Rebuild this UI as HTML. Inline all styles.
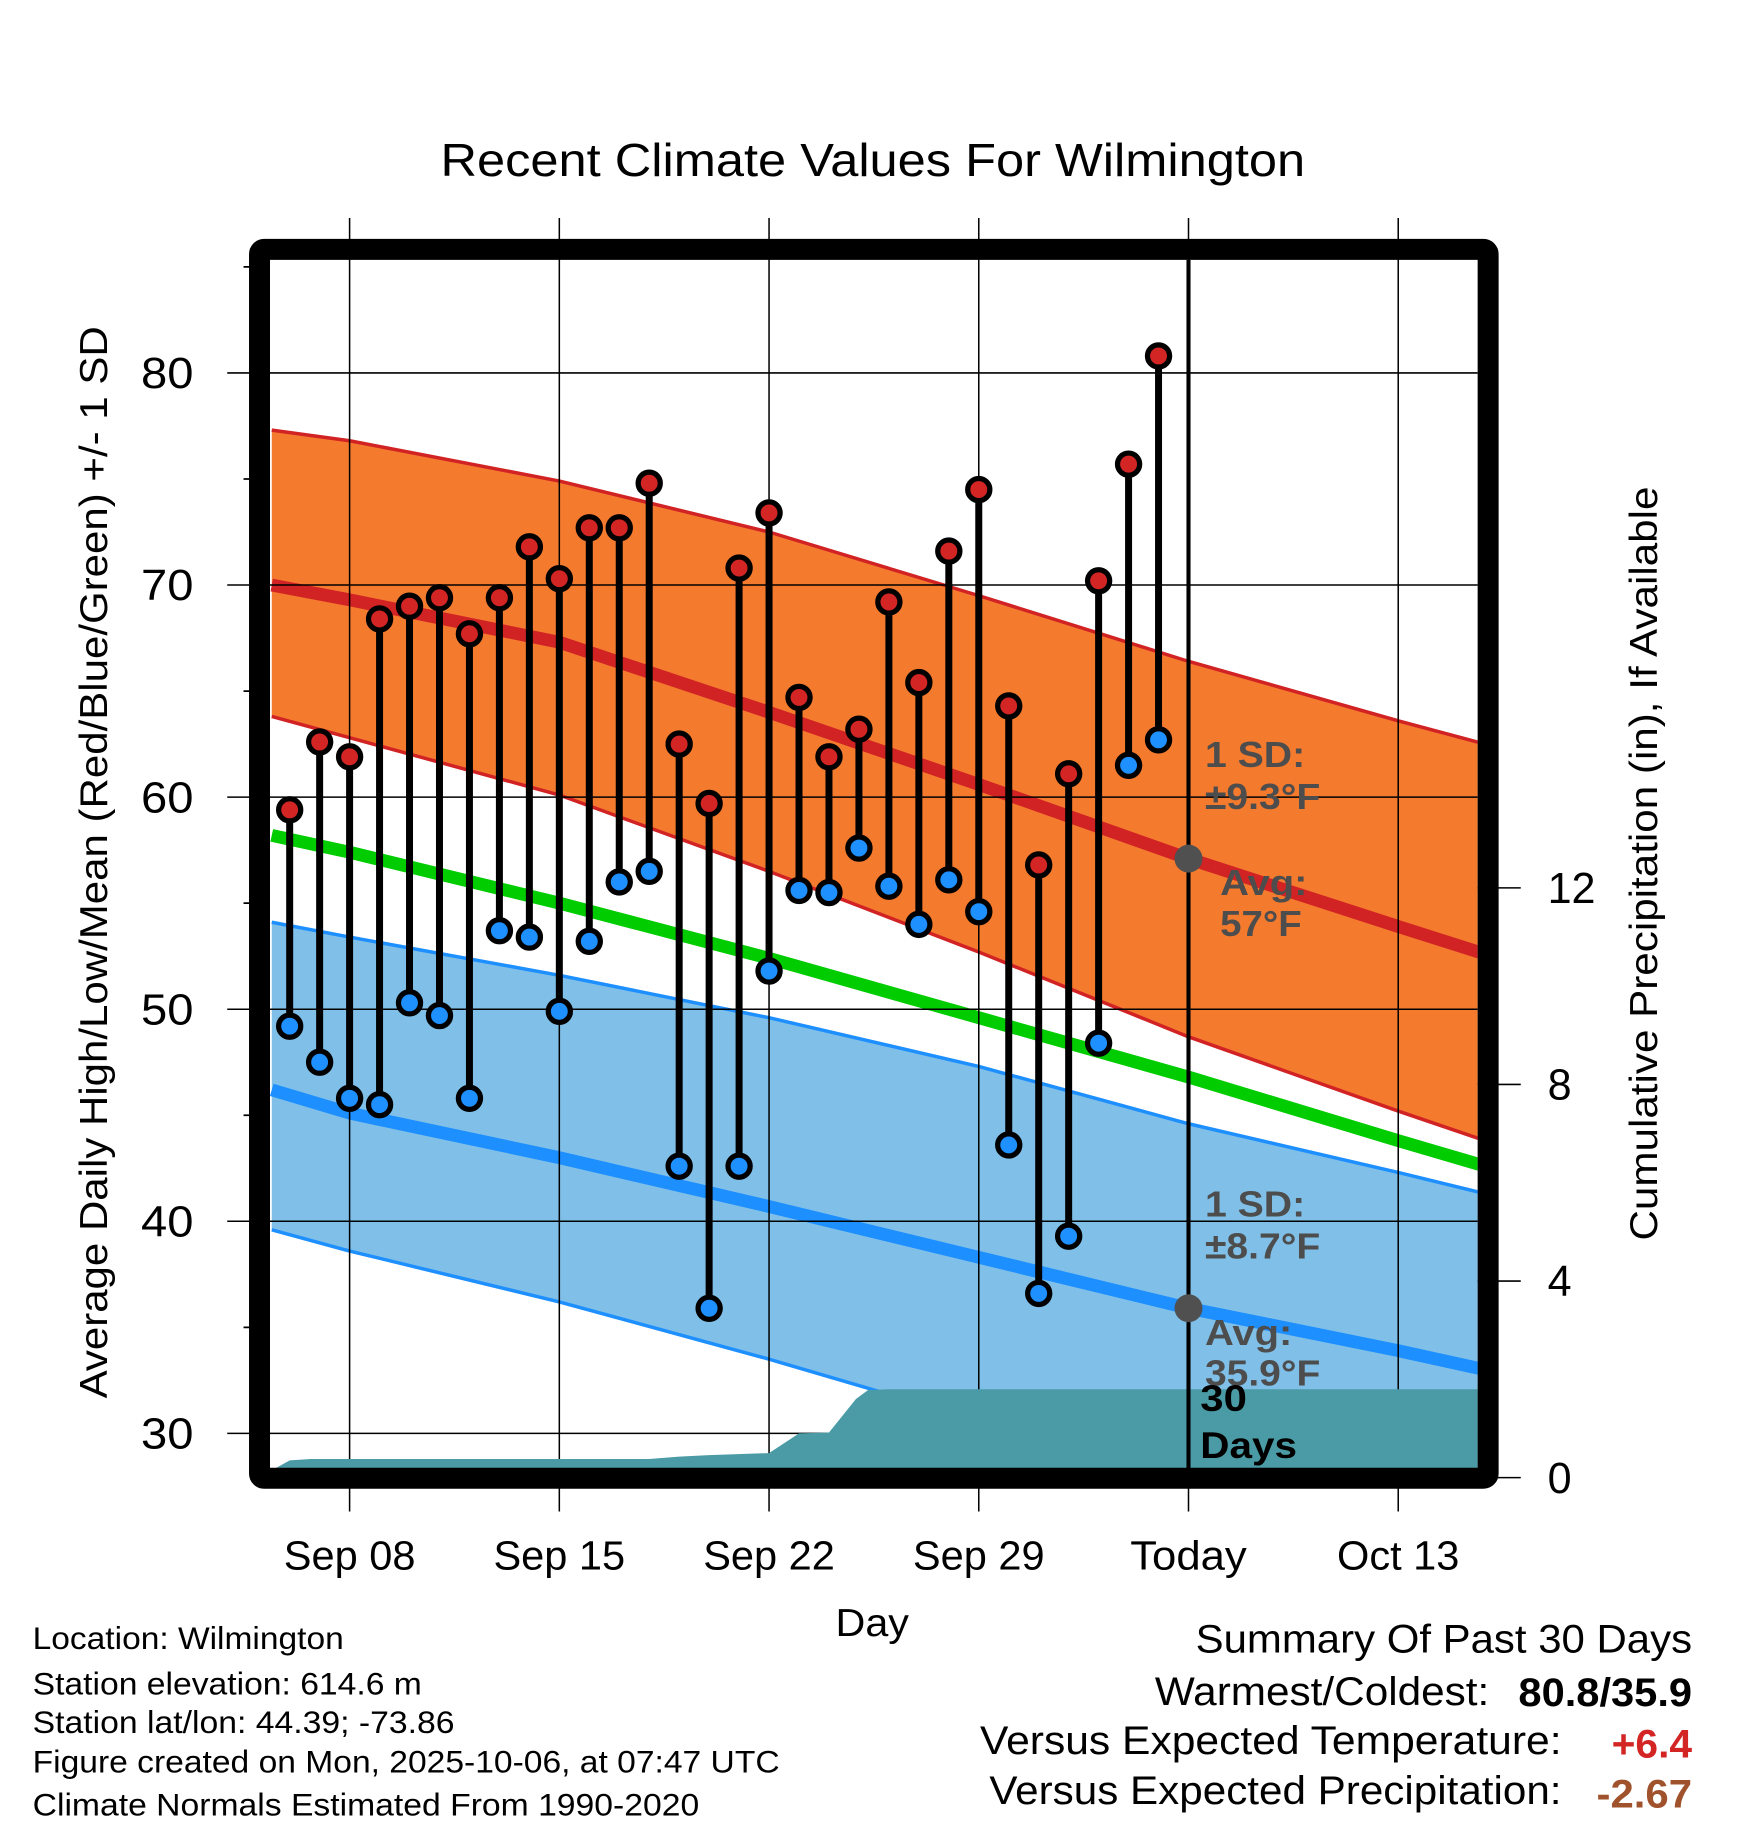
<!DOCTYPE html>
<html><head><meta charset="utf-8"><style>
html,body{margin:0;padding:0;background:#fff}
svg{display:block;font-family:"Liberation Sans",sans-serif}
</style></head><body>
<svg id="chart" width="1748" height="1828" viewBox="0 0 1500 1568.6" xmlns="http://www.w3.org/2000/svg">
<g id="bands"></g>
<g id="grid"></g>
<g id="precip"></g>
<g id="marks"></g>
<g id="annot"></g>
<g id="axes"></g>
<text x="378" y="151" font-size="40" textLength="742" lengthAdjust="spacingAndGlyphs">Recent Climate Values For Wilmington</text>
<text transform="translate(92,740) rotate(-90)" font-size="33" text-anchor="middle" textLength="920" lengthAdjust="spacingAndGlyphs">Average Daily High/Low/Mean (Red/Blue/Green) +/- 1 SD</text>
<text transform="translate(1422,741) rotate(-90)" font-size="33" text-anchor="middle" textLength="647" lengthAdjust="spacingAndGlyphs">Cumulative Precipitation (in), If Available</text>
<text x="717" y="1404" font-size="33" textLength="63" lengthAdjust="spacingAndGlyphs">Day</text>
<g font-size="27">
<text x="28" y="1415" textLength="267" lengthAdjust="spacingAndGlyphs">Location: Wilmington</text>
<text x="28" y="1454" textLength="334" lengthAdjust="spacingAndGlyphs">Station elevation: 614.6 m</text>
<text x="28" y="1487" textLength="362" lengthAdjust="spacingAndGlyphs">Station lat/lon: 44.39; -73.86</text>
<text x="28" y="1521" textLength="641" lengthAdjust="spacingAndGlyphs">Figure created on Mon, 2025-10-06, at 07:47 UTC</text>
<text x="28" y="1558" textLength="572" lengthAdjust="spacingAndGlyphs">Climate Normals Estimated From 1990-2020</text>
</g>
<g font-size="34">
<text x="1026" y="1418" textLength="426" lengthAdjust="spacingAndGlyphs">Summary Of Past 30 Days</text>
<text x="991" y="1463" textLength="287" lengthAdjust="spacingAndGlyphs">Warmest/Coldest:</text>
<text x="1303" y="1464" font-weight="bold" textLength="149" lengthAdjust="spacingAndGlyphs">80.8/35.9</text>
<text x="841" y="1505" textLength="499" lengthAdjust="spacingAndGlyphs">Versus Expected Temperature:</text>
<text x="1383" y="1508" font-weight="bold" fill="#d42525" textLength="69" lengthAdjust="spacingAndGlyphs">+6.4</text>
<text x="849" y="1548" textLength="491" lengthAdjust="spacingAndGlyphs">Versus Expected Precipitation:</text>
<text x="1370" y="1551" font-weight="bold" fill="#a0522d" textLength="82" lengthAdjust="spacingAndGlyphs">-2.67</text>
</g>
</svg>
<script>
const days = ["Sep 06","Sep 07","Sep 08","Sep 09","Sep 10","Sep 11","Sep 12","Sep 13","Sep 14","Sep 15","Sep 16","Sep 17","Sep 18","Sep 19","Sep 20","Sep 21","Sep 22","Sep 23","Sep 24","Sep 25","Sep 26","Sep 27","Sep 28","Sep 29","Sep 30","Oct 01","Oct 02","Oct 03","Oct 04","Oct 05"];
const highs = [59.4,62.6,61.9,68.4,69.0,69.4,67.7,69.4,71.8,70.3,72.7,72.7,74.8,62.5,59.7,70.8,73.4,64.7,61.9,63.2,69.2,65.4,71.6,74.5,64.3,56.8,61.1,70.2,75.7,80.8];
const lows = [49.2,47.5,45.8,45.5,50.3,49.7,45.8,53.7,53.4,49.9,53.2,56.0,56.5,42.6,35.9,42.6,51.8,55.6,55.5,57.6,55.8,54.0,56.1,54.6,43.6,36.6,39.3,48.4,61.5,62.7];
const normDays = [-2.6,0,7,14,21,28,35,37.9];
const hiMean = [70.0,69.3,67.3,64.0,60.6,57.1,53.9,52.6];
const hiUpper = [77.3,76.8,74.9,72.5,69.5,66.4,63.6,62.5];
const hiLower = [63.8,62.8,60.1,56.5,52.7,48.7,45.2,43.8];
const meanMean = [58.2,57.4,55.0,52.4,49.6,46.8,43.8,42.6];
const loMean = [46.2,45.1,43.0,40.7,38.3,35.9,33.9,33.0];
const loUpper = [54.1,53.4,51.6,49.6,47.3,44.6,42.3,41.3];
const loLower = [39.6,38.6,36.2,33.5,30.6,27.2,25.0,24.3];
const precipDays = [-2.6,-2,-1.3,0,10,11,12,14,15,16,16.9,17.3,18,30,37.9];
const precipVals = [0.15,0.35,0.38,0.38,0.38,0.43,0.46,0.5,0.9,0.92,1.6,1.78,1.8,1.8,1.8];
const xTicks = ["Sep 08","Sep 15","Sep 22","Sep 29","Today","Oct 13"];
const yTicks = [30,40,50,60,70,80];
const pTicks = [0,4,8,12];

const NS="http://www.w3.org/2000/svg";
const L=231.7,R=1268,T=223,B=1260;
const X=d=>300+d*25.71;
const Y=t=>320+(80-t)*18.2;
const P=p=>1268-p*42.18;
function el(tag,attrs,parent,text){const e=document.createElementNS(NS,tag);for(const k in attrs)e.setAttribute(k,attrs[k]);if(text!==undefined)e.textContent=text;parent.appendChild(e);return e;}
function pts(xs,ys){return xs.map((d,i)=>X(d).toFixed(1)+","+Y(ys[i]).toFixed(1));}
const bands=document.getElementById('bands');
const clip=el('clipPath',{id:'pc'},el('defs',{},document.getElementById('chart')));
el('rect',{x:L,y:T,width:R-L,height:B-T},clip);
bands.setAttribute('clip-path','url(#pc)');
let e;
e=el('polygon',{points:pts(normDays,hiUpper).concat(pts(normDays,hiLower).reverse()).join(' '),fill:'#f47a2e'},bands);


e=el('polygon',{points:pts(normDays,loUpper).concat(pts(normDays,loLower).reverse()).join(' '),fill:'#80c0e8'},bands);


[[hiUpper,'#d22324',3,'high-upper-line'],[hiLower,'#d22324',3,'high-lower-line'],[loUpper,'#1e8fff',3,'low-upper-line'],[loLower,'#1e8fff',3,'low-lower-line'],[hiMean,'#d22324',11,'high-mean-line'],[loMean,'#1e8fff',11,'low-mean-line'],[meanMean,'#00cc00',11,'mean-line']].forEach(a=>{
 e=el('polyline',{points:pts(normDays,a[0]).join(' '),fill:'none',stroke:a[1],'stroke-width':a[2],'stroke-linejoin':'round'},bands);
 
 
});
const grid=document.getElementById('grid');
const axes=document.getElementById('axes');
const xw={"Sep 08":113,"Sep 15":113,"Sep 22":113,"Sep 29":113,"Today":100,"Oct 13":105};
xTicks.forEach((t,i)=>{const x=X(i*7);
 e=el('line',{x1:x,x2:x,y1:187,y2:1297,stroke:'#000','stroke-width':1.3},grid);
 
 
 e=el('text',{x:x,y:1347,'font-size':35,'text-anchor':'middle',textLength:xw[t],lengthAdjust:'spacingAndGlyphs'},axes,t);
 
 
});
yTicks.forEach(t=>{const y=Y(t);
 e=el('line',{x1:195,x2:R,y1:y,y2:y,stroke:'#000','stroke-width':1.3},grid);
 
 
 e=el('text',{x:166,y:y+13,'font-size':37,'text-anchor':'end',textLength:45,lengthAdjust:'spacingAndGlyphs'},axes,t);
 
 
});
for(let t=30;t<=85;t+=5){if(t%10){const y=Y(t);el('line',{x1:209,x2:230,y1:y,y2:y,stroke:'#000','stroke-width':1.5},grid);}}
pTicks.forEach(p=>{const y=P(p);
 e=el('line',{x1:R,x2:1305,y1:y,y2:y,stroke:'#000','stroke-width':1.3},grid);
 
 
 e=el('text',{x:1328,y:y+13,'font-size':37},axes,p);
 
 
});
const pr=document.getElementById('precip');
const pp=precipDays.map((d,i)=>Math.max(L,Math.min(R,X(d))).toFixed(1)+","+P(precipVals[i]).toFixed(1));
e=el('polygon',{points:[L+","+B].concat(pp).concat([R+","+P(precipVals[precipVals.length-1]).toFixed(1),R+","+B]).join(' '),fill:'#4a9ba5'},pr);


const marks=document.getElementById('marks');
days.forEach((d,i)=>{const x=X(i-2);
 e=el('line',{x1:x,x2:x,y1:Y(highs[i]),y2:Y(lows[i]),stroke:'#000','stroke-width':6},marks);
 
 
});
days.forEach((d,i)=>{const x=X(i-2);
 e=el('circle',{cx:x,cy:Y(highs[i]),r:9.5,fill:'#d42525',stroke:'#000','stroke-width':4.5},marks);
 
 
 e=el('circle',{cx:x,cy:Y(lows[i]),r:9.5,fill:'#1e90ff',stroke:'#000','stroke-width':4.5},marks);
 
 
});
const an=document.getElementById('annot');
const tx=X(28);
e=el('line',{x1:tx,x2:tx,y1:T,y2:B,stroke:'#000','stroke-width':3.5},an);


el('circle',{cx:tx,cy:Y(57.1),r:12,fill:'#505050'},an);
el('circle',{cx:tx,cy:Y(35.9),r:12,fill:'#505050'},an);
[["1 SD:",1034,658,86],["±9.3°F",1034,694,99],["Avg:",1047,768,75],["57°F",1047,803,70],["1 SD:",1034,1044,86],["±8.7°F",1034,1080,99],["Avg:",1034,1154,75],["35.9°F",1034,1189,99]].forEach(a=>{
 e=el('text',{x:a[1],y:a[2],'font-size':31,'font-weight':'bold',fill:'#4d4d4d',textLength:a[3],lengthAdjust:'spacingAndGlyphs'},an,a[0]);
 
 
});
e=el('text',{x:1030,y:1211,'font-size':32,'font-weight':'bold',textLength:40,lengthAdjust:'spacingAndGlyphs'},an,"30");


e=el('text',{x:1030,y:1251,'font-size':32,'font-weight':'bold',textLength:83,lengthAdjust:'spacingAndGlyphs'},an,"Days");


e=el('rect',{x:222.7,y:214,width:1277-222.7,height:1268.5-214,fill:'none',stroke:'#000','stroke-width':18,rx:4},axes);


</script>
</body></html>
